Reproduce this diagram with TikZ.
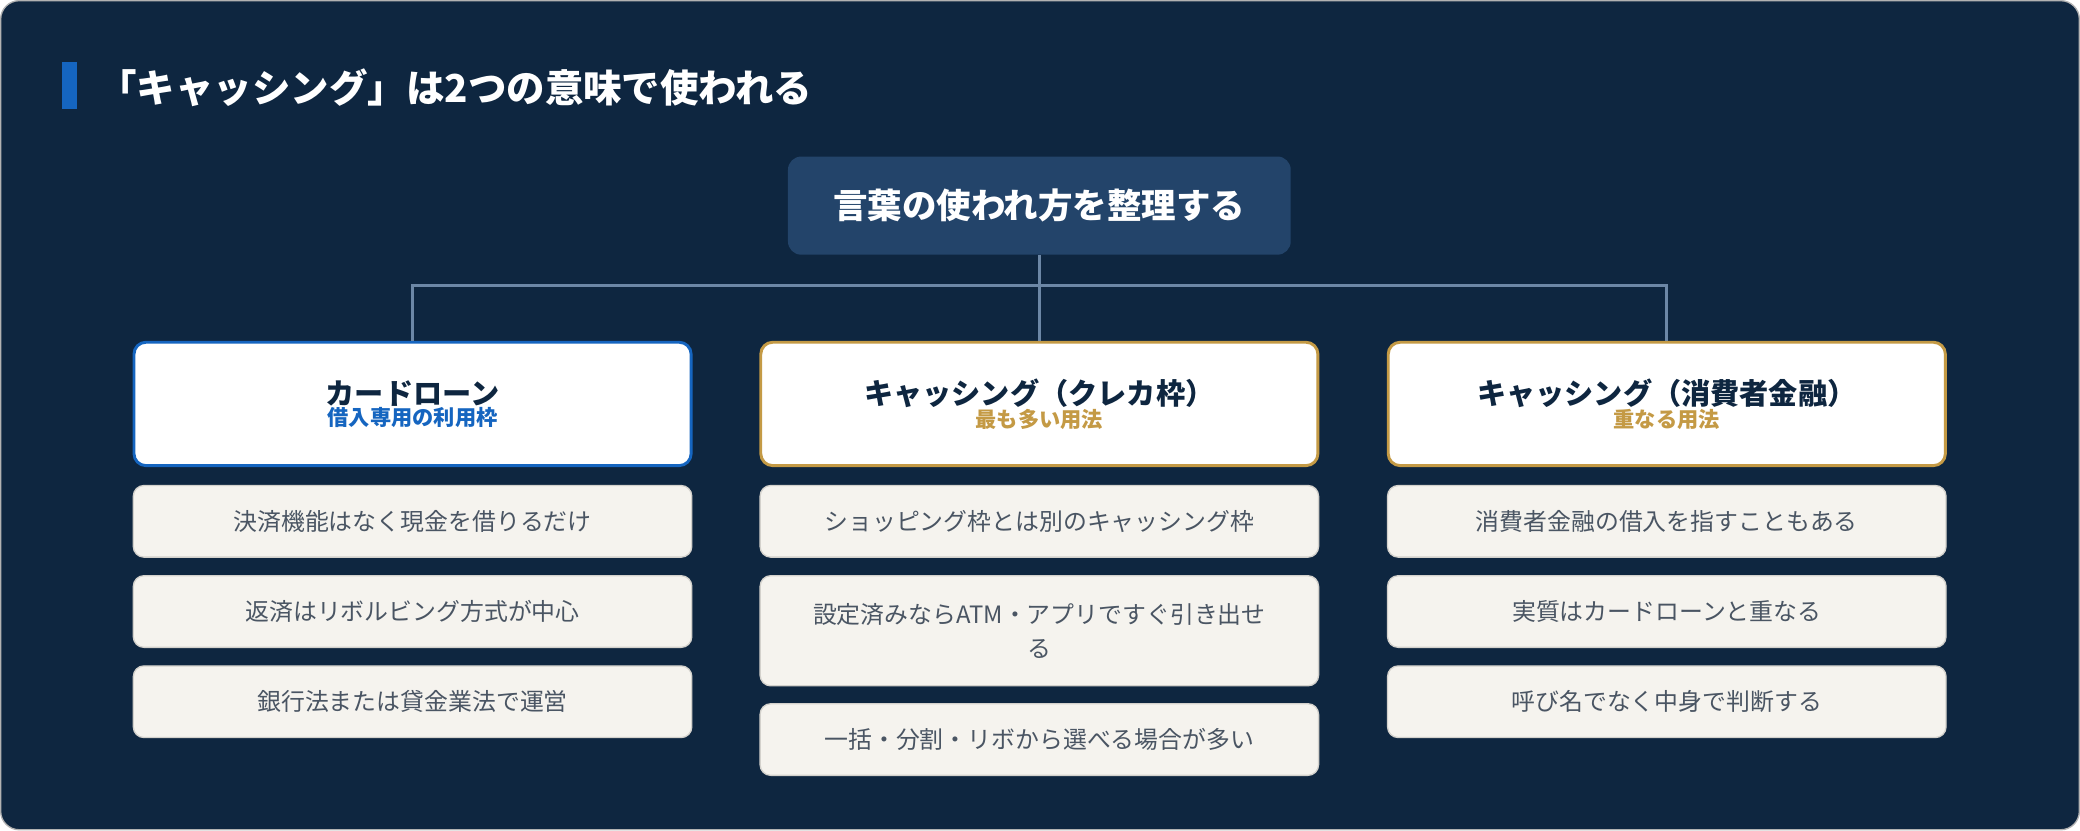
\documentclass[tikz,border=0pt]{standalone}
\usepackage{fontspec}
\setmainfont{Noto Sans CJK JP}
\usetikzlibrary{positioning}
\definecolor{bg}{HTML}{0E2640}
\definecolor{rootc}{HTML}{23446A}
\definecolor{linec}{HTML}{6C87A6}
\definecolor{blue1}{HTML}{1565C0}
\definecolor{gold}{HTML}{C49A45}
\definecolor{itemf}{HTML}{F5F3EE}
\definecolor{itemb}{HTML}{D3D1CC}
\definecolor{itemt}{HTML}{4A5563}
\definecolor{navy}{HTML}{0E2640}
\begin{document}
\begin{tikzpicture}[x=1pt,y=-1pt,
  hdr/.style={draw=#1,line width=2.2pt,fill=white,rounded corners=9pt,minimum width=420pt,minimum height=93pt,align=center,inner sep=0pt},
  item/.style={draw=itemb,line width=1pt,fill=itemf,rounded corners=8pt,minimum width=421pt,minimum height=54pt,align=center,text=itemt,font=\fontsize{18}{26}\selectfont,inner sep=0pt},
  conn/.style={draw=linec,line width=2pt}]
\useasboundingbox (0,0) rectangle (1568,626);
\fill[bg,draw=gray!60,line width=1pt,rounded corners=14pt] (0.5,0.5) rectangle (1567.5,625.5);
\fill[blue1] (47,47) rectangle (58,82);
\node[anchor=west,text=white,font=\fontsize{29}{34}\selectfont\bfseries,inner sep=0pt] (title) at (74,66) {「キャッシング」は2つの意味で使われる};
\node[fill=rootc,rounded corners=10pt,minimum width=379pt,minimum height=74pt,text=white,font=\fontsize{26}{30}\selectfont\bfseries,inner sep=0pt] (root) at (783.5,155) {言葉の使われ方を整理する};
\node[hdr=blue1] (h1) at (311,304.5) {{\fontsize{22}{28}\selectfont\bfseries\color{navy}カードローン}\\{\fontsize{16}{22}\selectfont\bfseries\color{blue1}借入専用の利用枠}};
\node[hdr=gold] (h2) at (783.5,304.5) {{\fontsize{22}{28}\selectfont\bfseries\color{navy}キャッシング（クレカ枠）}\\{\fontsize{16}{22}\selectfont\bfseries\color{gold}最も多い用法}};
\node[hdr=gold] (h3) at (1256.5,304.5) {{\fontsize{22}{28}\selectfont\bfseries\color{navy}キャッシング（消費者金融）}\\{\fontsize{16}{22}\selectfont\bfseries\color{gold}重なる用法}};
\coordinate (j) at (783.5,215);
\draw[conn] (root.south) -- (j);
\draw[conn] (h1.north) |- (j) -| (h3.north);
\draw[conn] (j) -- (h2.north);
\node[item] (a1) at (311,393) {決済機能はなく現金を借りるだけ};
\node[item] (a2) at (311,461) {返済はリボルビング方式が中心};
\node[item] (a3) at (311,529) {銀行法または貸金業法で運営};
\node[item] (b1) at (783.5,393) {ショッピング枠とは別のキャッシング枠};
\node[item,minimum height=83pt] (b2) at (783.5,475.5) {設定済みならATM・アプリですぐ引き出せ\\る};
\node[item] (b3) at (783.5,557.5) {一括・分割・リボから選べる場合が多い};
\node[item] (c1) at (1256.5,393) {消費者金融の借入を指すこともある};
\node[item] (c2) at (1256.5,461) {実質はカードローンと重なる};
\node[item] (c3) at (1256.5,529) {呼び名でなく中身で判断する};
\end{tikzpicture}
\end{document}
